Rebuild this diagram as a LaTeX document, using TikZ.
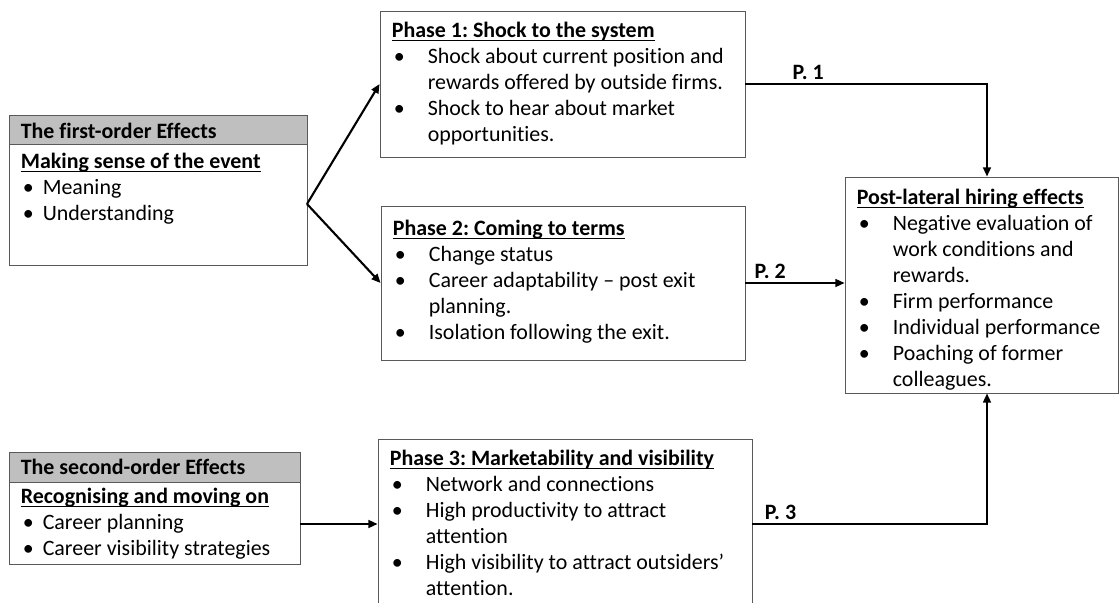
\documentclass[tikz,border=0pt]{standalone}
\usepackage{fontspec}
\setmainfont{Carlito}[Ligatures={TeX,NoCommon}]
\usetikzlibrary{arrows.meta,fit,calc}

% bullets for the phase boxes and for the effect boxes
\newcommand{\pb}{\makebox[25.6pt][l]{\hspace{1.5pt}\textbullet}}
\newcommand{\pc}{\hspace*{25.6pt}}
\newcommand{\eb}{\makebox[15.6pt][l]{\hspace{1.5pt}\textbullet}}
% underlined heading, rule at a fixed depth
\newsavebox{\hdbox}
\newcommand{\hd}[1]{\sbox{\hdbox}{\textbf{#1}}\rlap{\rule[-2.7pt]{\wd\hdbox}{0.9pt}}\usebox{\hdbox}}
\frenchspacing

\begin{document}
\begin{tikzpicture}[x=0.025cm, y=-0.025cm, font=\fontsize{15.6}{18.5}\selectfont]
    \tikzstyle{box}=[draw=black!65, line width=0.6pt, inner sep=0pt]
    \tikzstyle{headbox}=[box, fill=black!25]
    \tikzstyle{txt}=[anchor=north west, inner sep=0pt, align=left]
    \tikzstyle{headtxt}=[anchor=base west, inner sep=0pt, font=\fontsize{15.6}{18.5}\selectfont\bfseries]
    \tikzstyle{marrs}=[line width=1.5pt, -{Triangle[length=6.5pt,width=5.5pt]}]
    \tikzstyle{plab}=[font=\fontsize{15.6}{18.5}\selectfont\bfseries, inner sep=2pt]

    \useasboundingbox (0,0) rectangle (1120,603);
    \clip (0,0) rectangle (1120,603);

    % boxes
    \node[box, fit={(9,115) (307,265)}] (first) {};
    \node[headbox, fit={(9,115) (307,144)}] (firsthead) {};
    \node[box, fit={(9,452) (300,564)}] (second) {};
    \node[headbox, fit={(9,452) (300,482)}] (secondhead) {};
    \node[box, fit={(380,11) (745,157)}] (p1) {};
    \node[box, fit={(381,206) (745,360)}] (p2) {};
    \node[box, fit={(378,439) (752,609)}] (p3) {};
    \node[box, fit={(845,177) (1118,393)}] (post) {};

    % texts
    \node[headtxt] (firstheadtxt) at ([shift={(12,24)}]firsthead.north west) {The first-order Effects};
    \node[txt] (firsttxt) at ([shift={(12,38)}]first.north west) {%
        \hd{Making sense of the event}\\
        \eb Meaning\\
        \eb Understanding};

    \node[headtxt] (secondheadtxt) at ([shift={(12,23)}]secondhead.north west) {The second-order Effects};
    \node[txt] (secondtxt) at ([shift={(12,36)}]second.north west) {%
        \hd{Recognising and moving on}\\
        \eb Career planning\\
        \eb Career visibility strategies};

    \node[txt] (p1txt) at ([shift={(12,11)}]p1.north west) {%
        \hd{Phase 1: Shock to the system}\\
        \pb Shock about current position and\\
        \pc rewards offered by outside firms.\\
        \pb Shock to hear about market\\
        \pc opportunities.};

    \node[txt] (p2txt) at ([shift={(12,14)}]p2.north west) {%
        \hd{Phase 2: Coming to terms}\\
        \pb Change status\\
        \pb Career adaptability -- post exit\\
        \pc planning.\\
        \pb Isolation following the exit.};

    \node[txt] (p3txt) at ([shift={(12,11)}]p3.north west) {%
        \hd{Phase 3: Marketability and visibility}\\
        \pb Network and connections\\
        \pb High productivity to attract\\
        \pc attention\\
        \pb High visibility to attract outsiders'\\
        \pc attention.};

    \node[txt] (posttxt) at ([shift={(12,12)}]post.north west) {%
        \hd{Post-lateral hiring effects}\\
        \pb Negative evaluation of\\
        \pc work conditions and\\
        \pc rewards.\\
        \pb Firm performance\\
        \pb Individual performance\\
        \pb Poaching of former\\
        \pc colleagues.};

    % arrows
    \coordinate (fork) at (307,204);
    \draw[marrs] (fork) -- (p1.west);
    \draw[marrs] (fork) -- (p2.west);
    \draw[marrs] (second.east |- p3.west) -- (p3.west);

    \draw[marrs] (p1.east) -| ($(post.north)+(5.5,0)$) node[plab, above, pos=0.13] (lab1) {P. 1};
    \draw[marrs] (p2.east) -- (p2.east -| post.west) node[plab, above, pos=0.25] (lab2) {P. 2};
    \draw[marrs] (p3.east) -| ($(post.south)+(5.5,0)$) node[plab, above, pos=0.06] (lab3) {P. 3};

\end{tikzpicture}
\end{document}
